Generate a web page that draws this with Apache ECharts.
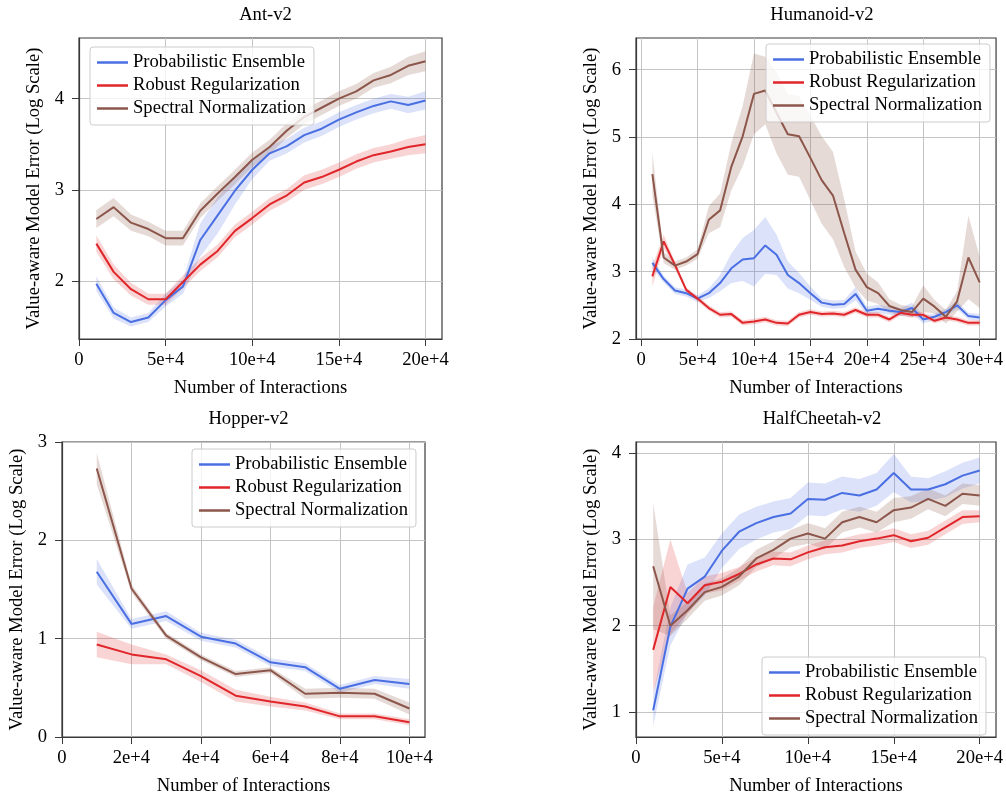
<!DOCTYPE html>
<html>
<head>
<meta charset="utf-8">
<script src="https://cdn.jsdelivr.net/npm/echarts@6/dist/echarts.min.js"></script>
<style>
  html, body { margin: 0; padding: 0; background: #fff; }
  #chart { width: 1006px; height: 797px; }
</style>
</head>
<body>
<div id="chart"></div>
<script>
// method names and colours
const methods = ['Probabilistic Ensemble', 'Robust Regularization', 'Spectral Normalization']
const colors = ['#4a6fe3', '#e0262a', '#8c564b']
const bandColors = ['rgba(74,111,227,0.2)', 'rgba(224,38,42,0.2)', 'rgba(140,86,75,0.22)']

// steps are in units of 1e4 interactions
const antSteps = [1, 2, 3, 4, 5, 6, 7, 8, 9, 10, 11, 12, 13, 14, 15, 16, 17, 18, 19, 20]
const antEnsemble = [1.97, 1.65, 1.55, 1.60, 1.79, 1.94, 2.45, 2.72, 2.99, 3.22, 3.40, 3.48, 3.60, 3.67, 3.77, 3.85, 3.92, 3.97, 3.93, 3.98]
const antEnsembleStd = [0.08, 0.06, 0.05, 0.05, 0.07, 0.08, 0.18, 0.2, 0.15, 0.1, 0.08, 0.08, 0.08, 0.08, 0.08, 0.08, 0.08, 0.08, 0.09, 0.1]
const antRobust = [2.41, 2.10, 1.91, 1.80, 1.80, 1.99, 2.18, 2.33, 2.55, 2.69, 2.84, 2.94, 3.08, 3.14, 3.22, 3.31, 3.38, 3.42, 3.47, 3.50]
const antRobustStd = [0.09, 0.08, 0.07, 0.06, 0.06, 0.07, 0.07, 0.07, 0.07, 0.07, 0.07, 0.07, 0.08, 0.08, 0.08, 0.08, 0.08, 0.08, 0.09, 0.1]
const antSpectral = [2.68, 2.81, 2.64, 2.57, 2.47, 2.47, 2.77, 2.96, 3.14, 3.33, 3.47, 3.65, 3.80, 3.90, 4.00, 4.08, 4.20, 4.26, 4.36, 4.41]
const antSpectralStd = [0.1, 0.1, 0.09, 0.08, 0.08, 0.08, 0.08, 0.08, 0.08, 0.08, 0.08, 0.08, 0.08, 0.08, 0.08, 0.08, 0.08, 0.09, 0.1, 0.11]

const humSteps = [1, 2, 3, 4, 5, 6, 7, 8, 9, 10, 11, 12, 13, 14, 15, 16, 17, 18, 19, 20, 21, 22, 23, 24, 25, 26, 27, 28, 29, 30]
const humEnsemble = [3.13, 2.89, 2.72, 2.68, 2.60, 2.68, 2.83, 3.05, 3.18, 3.20, 3.39, 3.25, 2.95, 2.83, 2.68, 2.54, 2.51, 2.52, 2.67, 2.42, 2.45, 2.42, 2.40, 2.46, 2.29, 2.33, 2.40, 2.50, 2.34, 2.32]
const humEnsembleStd = [0.08, 0.05, 0.05, 0.05, 0.05, 0.07, 0.12, 0.22, 0.32, 0.42, 0.42, 0.3, 0.2, 0.15, 0.1, 0.06, 0.06, 0.06, 0.1, 0.06, 0.06, 0.06, 0.06, 0.08, 0.06, 0.05, 0.05, 0.06, 0.05, 0.05]
const humRobust = [2.93, 3.45, 3.10, 2.73, 2.60, 2.46, 2.36, 2.37, 2.24, 2.26, 2.29, 2.24, 2.23, 2.36, 2.40, 2.37, 2.38, 2.36, 2.43, 2.36, 2.36, 2.29, 2.39, 2.36, 2.36, 2.27, 2.32, 2.29, 2.24, 2.24]
const humRobustStd = [0.15, 0.1, 0.05, 0.04, 0.04, 0.04, 0.04, 0.04, 0.04, 0.04, 0.04, 0.04, 0.04, 0.04, 0.04, 0.04, 0.04, 0.04, 0.04, 0.04, 0.04, 0.04, 0.04, 0.04, 0.04, 0.04, 0.04, 0.04, 0.04, 0.04]
const humSpectral = [4.45, 3.21, 3.09, 3.15, 3.26, 3.77, 3.91, 4.56, 5.01, 5.64, 5.69, 5.36, 5.04, 5.01, 4.69, 4.36, 4.13, 3.57, 3.03, 2.77, 2.68, 2.49, 2.43, 2.40, 2.60, 2.48, 2.33, 2.56, 3.21, 2.84]
const humSpectralStd = [0.32, 0.08, 0.06, 0.06, 0.07, 0.2, 0.25, 0.35, 0.45, 0.6, 0.5, 0.6, 0.6, 0.6, 0.63, 0.65, 0.65, 0.5, 0.27, 0.2, 0.16, 0.1, 0.08, 0.08, 0.2, 0.1, 0.1, 0.15, 0.62, 0.38]

const hopSteps = [1, 2, 3, 4, 5, 6, 7, 8, 9, 10]
const hopEnsemble = [1.68, 1.15, 1.23, 1.02, 0.95, 0.76, 0.71, 0.49, 0.58, 0.54]
const hopEnsembleStd = [0.13, 0.05, 0.05, 0.04, 0.04, 0.04, 0.04, 0.04, 0.04, 0.05]
const hopRobust = [0.94, 0.84, 0.79, 0.62, 0.42, 0.36, 0.31, 0.21, 0.21, 0.15]
const hopRobustStd = [0.13, 0.1, 0.05, 0.06, 0.06, 0.05, 0.04, 0.03, 0.03, 0.03]
const hopSpectral = [2.73, 1.51, 1.03, 0.81, 0.64, 0.68, 0.44, 0.45, 0.44, 0.29]
const hopSpectralStd = [0.16, 0.04, 0.03, 0.03, 0.03, 0.03, 0.05, 0.05, 0.05, 0.06]

const hcSteps = [1, 2, 3, 4, 5, 6, 7, 8, 9, 10, 11, 12, 13, 14, 15, 16, 17, 18, 19, 20]
const hcEnsemble = [1.02, 1.99, 2.43, 2.57, 2.87, 3.09, 3.19, 3.26, 3.30, 3.47, 3.46, 3.54, 3.51, 3.58, 3.77, 3.58, 3.58, 3.64, 3.74, 3.80]
const hcEnsembleStd = [0.18, 0.22, 0.28, 0.22, 0.2, 0.2, 0.19, 0.18, 0.18, 0.19, 0.19, 0.19, 0.19, 0.19, 0.22, 0.15, 0.13, 0.15, 0.15, 0.15]
const hcRobust = [1.72, 2.45, 2.26, 2.47, 2.51, 2.60, 2.71, 2.78, 2.77, 2.85, 2.91, 2.93, 2.98, 3.01, 3.05, 2.98, 3.02, 3.14, 3.26, 3.27]
const hcRobustStd = [0.5, 0.55, 0.12, 0.1, 0.1, 0.08, 0.08, 0.08, 0.08, 0.08, 0.08, 0.08, 0.08, 0.08, 0.08, 0.08, 0.08, 0.08, 0.08, 0.07]
const hcSpectral = [2.69, 2.00, 2.18, 2.39, 2.45, 2.57, 2.78, 2.88, 3.01, 3.07, 3.01, 3.20, 3.26, 3.20, 3.34, 3.37, 3.47, 3.39, 3.53, 3.51]
const hcSpectralStd = [0.73, 0.12, 0.1, 0.1, 0.1, 0.1, 0.1, 0.1, 0.1, 0.12, 0.12, 0.12, 0.12, 0.12, 0.14, 0.13, 0.12, 0.12, 0.12, 0.12]

// tick positions
const antXTicks = [0, 5, 10, 15, 20]
const antYTicks = [2, 3, 4]
const humXTicks = [0, 5, 10, 15, 20, 25, 30]
const humYTicks = [2, 3, 4, 5, 6]
const hopXTicks = [0, 2, 4, 6, 8, 10]
const hopYTicks = [0, 1, 2, 3]
const hcXTicks = [0, 5, 10, 15, 20]
const hcYTicks = [1, 2, 3, 4]

const FONT = '"Liberation Serif", "Times New Roman", serif'
const FS = 18.6

const panels = [
  { title: 'Ant-v2', steps: antSteps, mean: [antEnsemble, antRobust, antSpectral], std: [antEnsembleStd, antRobustStd, antSpectralStd],
    xTicks: antXTicks, yTicks: antYTicks, xMin: 0, xMax: 20.95, yMin: 1.364, yMax: 4.665,
    grid: { left: 79, top: 38, width: 363, height: 301 }, legend: { left: 90, top: 47 } },
  { title: 'Humanoid-v2', steps: humSteps, mean: [humEnsemble, humRobust, humSpectral], std: [humEnsembleStd, humRobustStd, humSpectralStd],
    xTicks: humXTicks, yTicks: humYTicks, xMin: -0.45, xMax: 31.45, yMin: 2, yMax: 6.47,
    grid: { left: 636, top: 38, width: 362, height: 301 }, legend: { left: 766, top: 44 } },
  { title: 'Hopper-v2', steps: hopSteps, mean: [hopEnsemble, hopRobust, hopSpectral], std: [hopEnsembleStd, hopRobustStd, hopSpectralStd],
    xTicks: hopXTicks, yTicks: hopYTicks, xMin: 0, xMax: 10.45, yMin: 0, yMax: 3,
    grid: { left: 62, top: 442, width: 363, height: 300 }, legend: { left: 192, top: 449 } },
  { title: 'HalfCheetah-v2', steps: hcSteps, mean: [hcEnsemble, hcRobust, hcSpectral], std: [hcEnsembleStd, hcRobustStd, hcSpectralStd],
    xTicks: hcXTicks, yTicks: hcYTicks, xMin: 0, xMax: 20.95, yMin: 0.71, yMax: 4.13,
    grid: { left: 636, top: 442, width: 362, height: 301 }, legend: { left: 762, top: 657 } }
]

const chart = echarts.init(document.getElementById('chart'), null, { renderer: 'canvas' })

const grids = []
const xAxes = []
const yAxes = []
const titles = []
const legends = []
const series = []

// shaded band: one polygon through the library's coordinate system
function bandRenderer(steps, lo, hi, fill) {
  return function (params, api) {
    if (params.dataIndex !== 0) return null
    const top = steps.map((s, i) => api.coord([s, hi[i]]))
    const bottom = steps.map((s, i) => api.coord([s, lo[i]])).reverse()
    const cs = params.coordSys
    return {
      type: 'polygon',
      shape: { points: top.concat(bottom) },
      style: { fill: fill },
      clipPath: { type: 'rect', shape: { x: cs.x, y: cs.y, width: cs.width, height: cs.height } },
      silent: true
    }
  }
}

panels.forEach((p, k) => {
  grids.push(Object.assign({ show: true, borderColor: '#3a3a3a', borderWidth: 1.2, backgroundColor: 'transparent' }, p.grid))
  titles.push({
    text: p.title,
    left: p.grid.left + p.grid.width / 2,
    top: p.grid.top - 37,
    textAlign: 'center',
    textStyle: { fontFamily: FONT, fontSize: FS, fontWeight: 'normal', color: '#000' }
  })
  xAxes.push({
    type: 'value', gridIndex: k, min: p.xMin, max: p.xMax,
    name: 'Number of Interactions', nameLocation: 'middle', nameGap: 40,
    nameTextStyle: { fontFamily: FONT, fontSize: FS, color: '#000' },
    axisLine: { show: true, onZero: false, lineStyle: { color: '#3a3a3a', width: 1.2 } },
    axisTick: { show: true, length: 7, customValues: p.xTicks, lineStyle: { color: '#3a3a3a' } },
    axisLabel: { customValues: p.xTicks, margin: 12, fontFamily: FONT, fontSize: FS, color: '#000',
      formatter: v => v === 0 ? '0' : v + 'e+4' },
    splitLine: { show: true, lineStyle: { color: '#c4c4c4', width: 1 } }
  })
  yAxes.push({
    type: 'value', gridIndex: k, min: p.yMin, max: p.yMax,
    name: 'Value-aware Model Error (Log Scale)', nameLocation: 'middle', nameGap: 35,
    nameTextStyle: { fontFamily: FONT, fontSize: FS, color: '#000' },
    axisLine: { show: true, onZero: false, lineStyle: { color: '#3a3a3a', width: 1.2 } },
    axisTick: { show: true, length: 7, customValues: p.yTicks, lineStyle: { color: '#3a3a3a' } },
    axisLabel: { customValues: p.yTicks, margin: 15, fontFamily: FONT, fontSize: FS, color: '#000' },
    splitLine: { show: true, lineStyle: { color: '#c4c4c4', width: 1 } }
  })
  legends.push({
    data: methods,
    orient: 'vertical',
    left: p.legend.left, top: p.legend.top,
    icon: 'rect', itemWidth: 31, itemHeight: 2.5, itemGap: 4,
    padding: [6, 8, 7, 7],
    backgroundColor: 'rgba(255,255,255,0.8)',
    borderColor: '#cccccc', borderWidth: 1, borderRadius: 3,
    textStyle: { fontFamily: FONT, fontSize: FS, color: '#000', lineHeight: 18.5 },
    selectedMode: false,
    z: 10
  })

  methods.forEach((m, j) => {
    const mean = p.mean[j]
    const std = p.std[j]
    const lo = mean.map((v, i) => v - std[i])
    const hi = mean.map((v, i) => v + std[i])
    series.push({
      name: m + ' band', type: 'custom', xAxisIndex: k, yAxisIndex: k,
      data: p.steps.map((s, i) => [s, lo[i], hi[i]]),
      encode: { x: 0, y: [1, 2] },
      renderItem: bandRenderer(p.steps, lo, hi, bandColors[j]),
      silent: true, z: 1
    })
    series.push({
      name: m, type: 'line', xAxisIndex: k, yAxisIndex: k,
      data: p.steps.map((s, i) => [s, mean[i]]),
      symbol: 'none', color: colors[j], lineStyle: { color: colors[j], width: 2 },
      silent: true, z: 3
    })
  })
})

chart.setOption({
  animation: false,
  title: titles,
  grid: grids,
  xAxis: xAxes,
  yAxis: yAxes,
  legend: legends,
  series: series
})
</script>
</body>
</html>
